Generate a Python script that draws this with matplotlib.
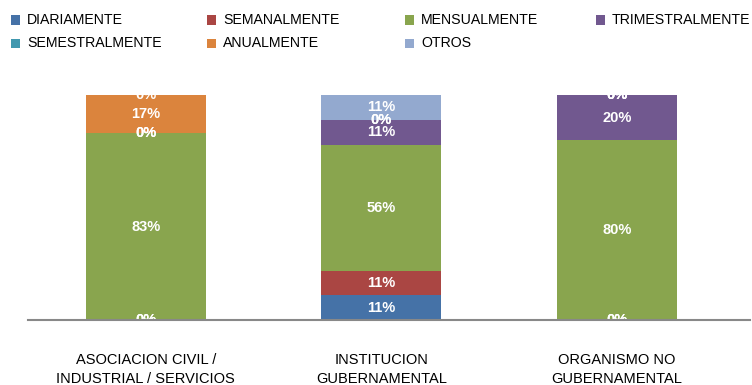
import matplotlib
matplotlib.use("Agg")
from matplotlib import pyplot as plt
from matplotlib.patches import Rectangle
import numpy as np

plt.rcParams["font.family"] = ["Liberation Sans", "DejaVu Sans"]

categories = ["ASOCIACION CIVIL /\nINDUSTRIAL / SERVICIOS", "INSTITUCION\nGUBERNAMENTAL", "ORGANISMO NO\nGUBERNAMENTAL"]
seriesNames = ["DIARIAMENTE", "SEMANALMENTE", "MENSUALMENTE", "TRIMESTRALMENTE", "SEMESTRALMENTE", "ANUALMENTE", "OTROS"]
diariamente = [0, 11, 0]
semanalmente = [0, 11, 0]
mensualmente = [83, 56, 80]
trimestralmente = [0, 11, 20]
semestralmente = [0, 0, 0]
anualmente = [17, 0, 0]
otros = [0, 11, 0]
seriesColors = ["#4572A7", "#AA4643", "#89A54E", "#71588F", "#4198AF", "#DB843D", "#93A9CF"]

allSeries = [diariamente, semanalmente, mensualmente, trimestralmente, semestralmente, anualmente, otros]

W, H = 752, 385
fig = plt.figure(figsize=(W / 100, H / 100), dpi=100)
ax = fig.add_axes([0.037, 0.1688, 0.960, 0.5844])

x = np.arange(len(categories))
bottom = np.zeros(len(categories))
for name, vals, color in zip(seriesNames, allSeries, seriesColors):
    vals = np.array(vals, dtype=float)
    ax.bar(x, vals, width=0.51, bottom=bottom, color=color, label=name, zorder=2)
    for xi, v, b in zip(x, vals, bottom):
        ax.text(xi, b + v / 2, f"{v:.0f}%", ha="center", va="center", color="white",
                fontsize=10.5, fontweight="bold", clip_on=True, zorder=3)
    bottom += vals

ax.set_xlim(-0.501, 2.565)
ax.set_ylim(0, 100)
ax.set_yticks([])
ax.set_xticks(x)
ax.set_xticklabels(categories, fontsize=10.5, linespacing=1.45)
ax.tick_params(axis="x", length=0, pad=24)
for side in ["left", "right", "top"]:
    ax.spines[side].set_visible(False)
ax.spines["bottom"].set_color("#888888")
ax.spines["bottom"].set_linewidth(1.5)
ax.spines["bottom"].set_zorder(4)

# legend laid out in fixed-width columns, row by row
colX = [11, 207, 405, 596]
rowY = [20, 43]
for i, (name, color) in enumerate(zip(seriesNames, seriesColors)):
    px, py = colX[i % 4], rowY[i // 4]
    fig.add_artist(Rectangle((px / W, 1 - (py + 4.5) / H), 9 / W, 9 / H,
                             transform=fig.transFigure, facecolor=color, edgecolor="none"))
    fig.text((px + 16) / W, 1 - py / H, name, ha="left", va="center", fontsize=10.2)

fig.savefig("out.png", dpi=100)
plt.close(fig)
